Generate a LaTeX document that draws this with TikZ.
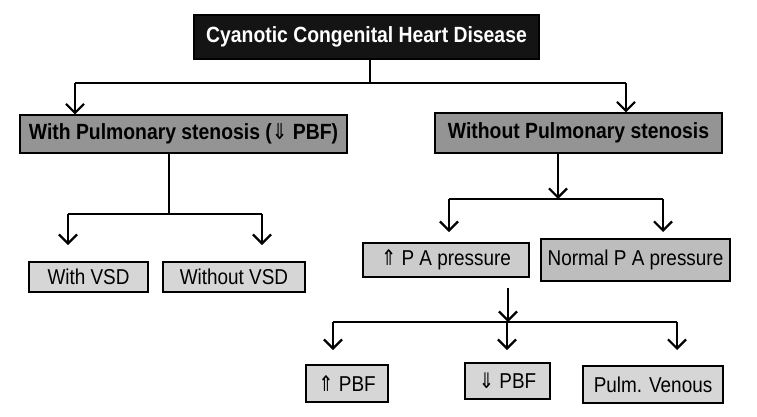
\documentclass[tikz,border=0pt]{standalone}
\usepackage{fontspec}
\setmainfont{Liberation Sans}[FakeStretch=0.88]
\newfontfamily\symf{DejaVu Sans}[FakeStretch=0.85]
\usetikzlibrary{arrows.meta}
\begin{document}
\begin{tikzpicture}[x=1pt,y=-1pt,
  base/.style={draw=black, line width=1.1pt, inner sep=0pt, anchor=center},
  topbox/.style={base, fill=black!92, text=white, font=\fontsize{22}{24}\selectfont\bfseries},
  midbox/.style={base, fill=black!42, font=\fontsize{22}{24}\selectfont\bfseries},
  lowbox/.style={base, fill=black!16, font=\fontsize{21.5}{24}\selectfont},
  conn/.style={line width=1.4pt},
  arr/.style={line width=2.2pt, -{Straight Barb[length=9pt,width=18pt]}}]
\useasboundingbox (0,0) rectangle (757,416);
% nodes
\node[topbox, minimum width=345pt, minimum height=44pt] (title) at (366.5,37) {Cyanotic\ Congenital\ Heart\ Disease};
\node[midbox, minimum width=327pt, minimum height=38pt] (ps) at (183.5,134) {With Pulmonary stenosis ({\symf\mdseries ⇓} PBF)};
\node[midbox, minimum width=287pt, minimum height=40pt] (nps) at (578.5,133) {Without Pulmonary stenosis};
\node[lowbox, minimum width=119pt, minimum height=30pt] (vsd) at (88.5,277) {With VSD};
\node[lowbox, minimum width=142pt, minimum height=30pt] (novsd) at (234,277) {Without VSD};
\node[lowbox, fill=black!20, minimum width=166pt, minimum height=34pt] (pap) at (446,260) {{\symf ⇑} P A pressure};
\node[lowbox, fill=black!26, minimum width=189pt, minimum height=42pt] (npa) at (635.5,260) {Normal P A pressure};
\node[lowbox, minimum width=82pt, minimum height=37pt] (pbfu) at (347,383.5) {{\symf ⇑} PBF};
\node[lowbox, minimum width=85pt, minimum height=36pt] (pbfd) at (507.5,381) {{\symf ⇓} PBF};
\node[lowbox, minimum width=140pt, minimum height=37pt] (pv) at (653,384.5) {Pulm. Venous};
% junction coordinates
\coordinate (j1) at (370,83);
\coordinate (j1l) at (75,83);
\coordinate (j1r) at (626,83);
\coordinate (j2) at (169,214);
\coordinate (j2l) at (68,214);
\coordinate (j2r) at (262,214);
\coordinate (e2l) at (68,245);
\coordinate (e2r) at (262,245);
\coordinate (j3) at (558,199);
\coordinate (j3l) at (449,199);
\coordinate (j3r) at (663,199);
\coordinate (e3l) at (449,232);
\coordinate (e3r) at (663,232);
\coordinate (s4) at (508,288);
\coordinate (j4) at (508,322);
\coordinate (j4l) at (333,322);
\coordinate (j4m) at (507,322);
\coordinate (j4r) at (677,322);
\coordinate (e4l) at (333,350);
\coordinate (e4m) at (507,350);
\coordinate (e4r) at (677,350);
% connectors
\draw[conn] (title.south -| j1) -- (j1);
\draw[conn] (j1l) -- (j1r);
\draw[arr] (j1l) -- (ps.north -| j1l);
\draw[arr] (j1r) -- (nps.north -| j1r);
\draw[conn] (ps.south -| j2) -- (j2);
\draw[conn] (j2l) -- (j2r);
\draw[arr] (j2l) -- (e2l);
\draw[arr] (j2r) -- (e2r);
\draw[arr] (nps.south -| j3) -- (j3);
\draw[conn] (j3l) -- (j3r);
\draw[arr] (j3l) -- (e3l);
\draw[arr] (j3r) -- (e3r);
\draw[arr] (s4) -- (j4);
\draw[conn] (j4l) -- (j4r);
\draw[arr] (j4l) -- (e4l);
\draw[arr] (j4m) -- (e4m);
\draw[arr] (j4r) -- (e4r);
\end{tikzpicture}
\end{document}
